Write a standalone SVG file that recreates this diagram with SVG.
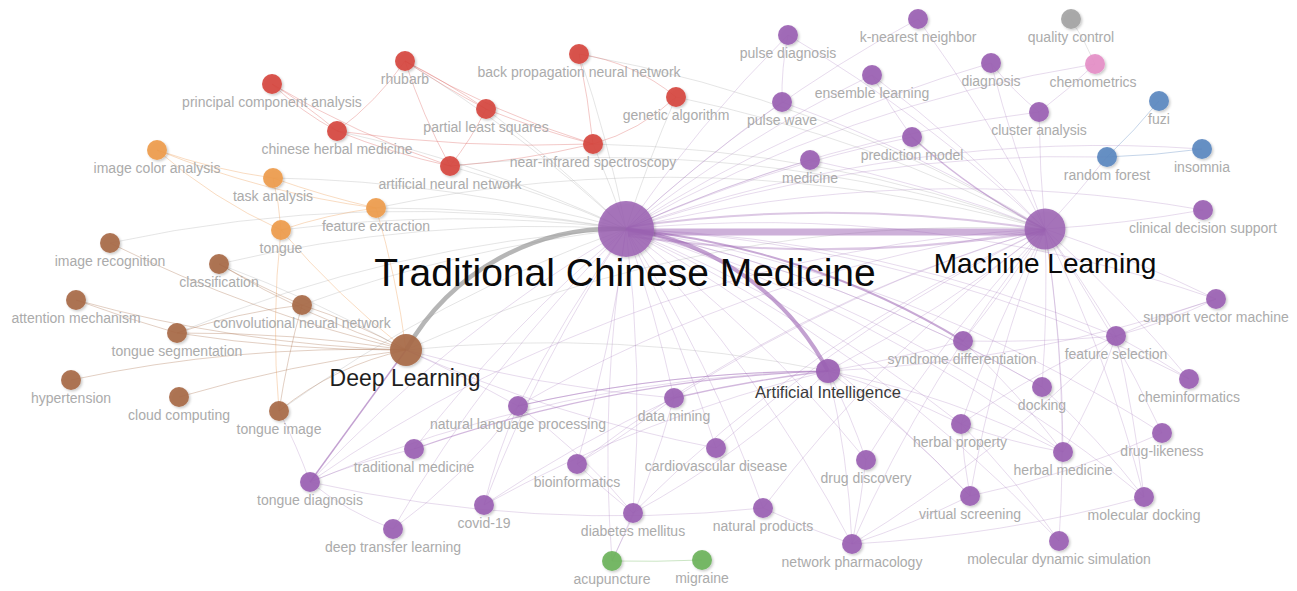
<svg xmlns="http://www.w3.org/2000/svg" width="1297" height="591" viewBox="0 0 1297 591">
<defs>
<style>
.e{fill:none;stroke-width:1}
.ep{stroke:#a77bbd;stroke-opacity:.27}
.eg{stroke:#9a9a9a;stroke-opacity:.26}
.er{stroke:#de6a66;stroke-opacity:.36}
.eo{stroke:#f0a35e;stroke-opacity:.38}
.eb{stroke:#b07a5a;stroke-opacity:.36}
.ebl{stroke:#6d95c8;stroke-opacity:.4}
.egr{stroke:#7dbd6c;stroke-opacity:.4}
.node circle{filter:url(#sh);fill-opacity:.92}
.pu{fill:#9b62b3}.rd{fill:#d6473f}.or{fill:#ee9c4c}.br{fill:#a86a48}
.bl{fill:#5b88c0}.gn{fill:#6db35c}.gy{fill:#a4a4a4}.pk{fill:#e58fc7}
text{font-family:"Liberation Sans",Arial,Helvetica,sans-serif;text-anchor:middle}
.lb{font-size:14px;fill:#ababab}
</style>
<filter id="sh" x="-50%" y="-50%" width="200%" height="200%">
<feDropShadow dx="1.5" dy="1.5" stdDeviation="1.3" flood-color="#000" flood-opacity="0.22"/>
</filter>
</defs>
<rect width="1297" height="591" fill="#fff"/>

<g id="connectors">
<!-- light links from the large hubs toward the left clusters -->
<g class="e eg">
<path d="M593 144 A1400 1400 0 0 1 626 229"/>
<path d="M450 166 A1400 1400 0 0 1 626 229"/>
<path d="M337 131 A1400 1400 0 0 1 626 229"/>
<path d="M405 61 A1400 1400 0 0 1 626 229"/>
<path d="M486 109 A1400 1400 0 0 1 626 229"/>
<path d="M579 54 A1400 1400 0 0 1 626 229"/>
<path d="M676 97 A1400 1400 0 0 0 626 229"/>
<path d="M376 208 A1400 1400 0 0 1 626 229"/>
<path d="M281 230 A1400 1400 0 0 1 626 229"/>
<path d="M273 178 A1400 1400 0 0 1 626 229"/>
<path d="M302 305 A1400 1400 0 0 1 626 229"/>
<path d="M219 264 A1400 1400 0 0 1 626 229"/>
<path d="M177 333 A1400 1400 0 0 1 626 229"/>
<path d="M279 411 A1400 1400 0 0 1 626 229"/>
<path d="M110 243 A1400 1400 0 0 1 626 229"/>
<path d="M593 144 A1400 1400 0 0 1 1045 229"/>
<path d="M676 97 A1400 1400 0 0 1 1045 229"/>
<path d="M579 54 A1400 1400 0 0 1 1045 229"/>
<path d="M376 208 A1400 1400 0 0 1 1045 229"/>
<path d="M450 166 A1400 1400 0 0 1 1045 229"/>
<path d="M406 350 A1400 1400 0 0 1 1045 229"/>
<path d="M406 350 A1400 1400 0 0 1 828 371"/>
<path d="M219 264 A1400 1400 0 0 1 406 350"/>
</g>
<!-- red cluster -->
<g class="e er">
<path d="M272 84 A300 300 0 0 0 337 131"/>
<path d="M272 84 A500 500 0 0 1 337 131"/>
<path d="M405 61 A300 300 0 0 1 337 131"/>
<path d="M405 61 A900 900 0 0 0 486 109"/>
<path d="M405 61 A700 700 0 0 1 486 109"/>
<path d="M405 61 A600 600 0 0 0 450 166"/>
<path d="M405 61 A900 900 0 0 0 593 144"/>
<path d="M486 109 A900 900 0 0 0 593 144"/>
<path d="M486 109 A300 300 0 0 1 450 166"/>
<path d="M337 131 A1400 1400 0 0 0 593 144"/>
<path d="M337 131 A700 700 0 0 0 450 166"/>
<path d="M272 84 A900 900 0 0 0 450 166"/>
<path d="M450 166 A900 900 0 0 0 593 144"/>
<path d="M579 54 A900 900 0 0 1 593 144"/>
<path d="M579 54 A200 200 0 0 1 676 97"/>
<path d="M676 97 A200 200 0 0 1 593 144"/>
</g>
<!-- orange cluster -->
<g class="e eo">
<path d="M157 150 A600 600 0 0 0 273 178"/>
<path d="M157 150 A900 900 0 0 0 376 208"/>
<path d="M157 150 A500 500 0 0 0 281 230"/>
<path d="M273 178 A900 900 0 0 0 376 208"/>
<path d="M273 178 A300 300 0 0 1 281 230"/>
<path d="M281 230 A500 500 0 0 1 376 208"/>
<path d="M281 230 A900 900 0 0 0 406 350"/>
<path d="M376 208 A900 900 0 0 1 406 350"/>
<path d="M281 230 A900 900 0 0 0 279 411"/>
</g>
<!-- brown cluster -->
<g class="e eb">
<path d="M110 243 A1400 1400 0 0 0 406 350"/>
<path d="M219 264 A900 900 0 0 0 406 350"/>
<path d="M76 300 A1400 1400 0 0 0 406 350"/>
<path d="M302 305 A600 600 0 0 1 406 350"/>
<path d="M177 333 A1400 1400 0 0 0 406 350"/>
<path d="M177 333 A1400 1400 0 0 1 406 350"/>
<path d="M71 380 A1400 1400 0 0 1 406 350"/>
<path d="M179 397 A1400 1400 0 0 1 406 350"/>
<path d="M279 411 A300 300 0 0 1 406 350"/>
<path d="M177 333 A600 600 0 0 1 302 305"/>
<path d="M302 305 A900 900 0 0 0 279 411"/>
<path d="M219 264 A900 900 0 0 0 302 305"/>
<path d="M76 300 A1400 1400 0 0 0 177 333"/>
</g>
<!-- purple links from Traditional Chinese Medicine -->
<g class="e ep">
<path d="M626 229 A1400 1400 0 0 1 788 35"/>
<path d="M626 229 A1400 1400 0 0 1 782 102"/>
<path d="M626 229 A1400 1400 0 0 1 918 19"/>
<path d="M626 229 A1400 1400 0 0 1 872 75"/>
<path d="M626 229 A1400 1400 0 0 1 810 160"/>
<path d="M626 229 A1400 1400 0 0 1 912 137"/>
<path d="M626 229 A1400 1400 0 0 1 991 63"/>
<path d="M626 229 A1400 1400 0 0 1 1039 112"/>
<path d="M626 229 A1400 1400 0 0 1 1095 64"/>
<path d="M626 229 A1400 1400 0 0 1 1107 157"/>
<path d="M626 229 A1400 1400 0 0 1 1203 210"/>
<path d="M626 229 A1400 1400 0 0 1 1216 299"/>
<path d="M626 229 A1400 1400 0 0 1 1116 336"/>
<path d="M626 229 A1400 1400 0 0 1 1189 379"/>
<path d="M626 229 A1400 1400 0 0 1 1042 387"/>
<path d="M626 229 A1400 1400 0 0 1 961 424"/>
<path d="M626 229 A1400 1400 0 0 1 1063 452"/>
<path d="M626 229 A1400 1400 0 0 1 866 460"/>
<path d="M626 229 A1400 1400 0 0 1 970 496"/>
<path d="M626 229 A1400 1400 0 0 1 852 544"/>
<path d="M626 229 A1400 1400 0 0 1 763 508"/>
<path d="M626 229 A1400 1400 0 0 1 716 448"/>
<path d="M626 229 A1400 1400 0 0 1 674 398"/>
<path d="M626 229 A1400 1400 0 0 0 518 406"/>
<path d="M626 229 A1400 1400 0 0 0 414 449"/>
<path d="M626 229 A1400 1400 0 0 1 577 464"/>
<path d="M626 229 A1400 1400 0 0 0 310 482"/>
<path d="M626 229 A1400 1400 0 0 0 484 505"/>
<path d="M626 229 A1400 1400 0 0 1 633 513"/>
<path d="M626 229 A1400 1400 0 0 0 393 529"/>
<path d="M626 229 A1400 1400 0 0 0 612 561"/>
<path d="M626 229 A1400 1400 0 0 1 1059 541"/>
<path d="M626 229 A1400 1400 0 0 1 1144 497"/>
<path d="M626 229 A1400 1400 0 0 1 1162 433"/>
<path d="M626 229 A1400 1400 0 0 1 1202 149"/>
</g>
<!-- purple links from Machine Learning -->
<g class="e ep">
<path d="M1045 229 A1400 1400 0 0 0 788 35"/>
<path d="M1045 229 A1400 1400 0 0 0 782 102"/>
<path d="M1045 229 A1400 1400 0 0 0 918 19"/>
<path d="M1045 229 A1400 1400 0 0 0 872 75"/>
<path d="M1045 229 A1400 1400 0 0 0 810 160"/>
<path d="M1045 229 A1400 1400 0 0 1 991 63"/>
<path d="M1045 229 A1400 1400 0 0 1 1039 112"/>
<path d="M1045 229 A1400 1400 0 0 0 1107 157"/>
<path d="M1045 229 A1400 1400 0 0 0 1203 210"/>
<path d="M1045 229 A1400 1400 0 0 1 1216 299"/>
<path d="M1045 229 A1400 1400 0 0 1 1116 336"/>
<path d="M1045 229 A1400 1400 0 0 1 963 341"/>
<path d="M1045 229 A1400 1400 0 0 1 828 371"/>
<path d="M1045 229 A1400 1400 0 0 1 1189 379"/>
<path d="M1045 229 A1400 1400 0 0 1 1162 433"/>
<path d="M1045 229 A1400 1400 0 0 1 1144 497"/>
<path d="M1045 229 A1400 1400 0 0 1 1063 452"/>
<path d="M1045 229 A1400 1400 0 0 1 1042 387"/>
<path d="M1045 229 A1400 1400 0 0 0 961 424"/>
<path d="M1045 229 A1400 1400 0 0 0 970 496"/>
<path d="M1045 229 A1400 1400 0 0 0 866 460"/>
<path d="M1045 229 A1400 1400 0 0 0 852 544"/>
<path d="M1045 229 A1400 1400 0 0 1 1059 541"/>
<path d="M1045 229 A1400 1400 0 0 0 674 398"/>
<path d="M1045 229 A1400 1400 0 0 0 518 406"/>
<path d="M1045 229 A1400 1400 0 0 0 310 482"/>
<path d="M1045 229 A1400 1400 0 0 0 716 448"/>
<path d="M1045 229 A1400 1400 0 0 0 633 513"/>
<path d="M1045 229 A1400 1400 0 0 0 763 508"/>
<path d="M1045 229 A1400 1400 0 0 0 577 464"/>
</g>
<!-- links among the outer topics -->
<g class="e ep">
<path d="M788 35 A300 300 0 0 0 782 102"/>
<path d="M872 75 A600 600 0 0 0 912 137"/>
<path d="M991 63 A300 300 0 0 0 1039 112"/>
<path d="M1039 112 A600 600 0 0 0 1095 64"/>
<path d="M963 341 A1400 1400 0 0 0 1116 336"/>
<path d="M963 341 A1400 1400 0 0 1 828 371"/>
<path d="M1116 336 A600 600 0 0 0 1216 299"/>
<path d="M1116 336 A900 900 0 0 1 1189 379"/>
<path d="M1116 336 A600 600 0 0 1 1063 452"/>
<path d="M1216 299 A900 900 0 0 0 961 424"/>
<path d="M828 371 A1400 1400 0 0 0 518 406"/>
<path d="M828 371 A1400 1400 0 0 0 484 505"/>
<path d="M828 371 A600 600 0 0 1 866 460"/>
<path d="M828 371 A900 900 0 0 1 852 544"/>
<path d="M828 371 A900 900 0 0 1 1063 452"/>
<path d="M828 371 A900 900 0 0 1 961 424"/>
<path d="M828 371 A900 900 0 0 1 970 496"/>
<path d="M406 350 A1400 1400 0 0 1 518 406"/>
<path d="M406 350 A1400 1400 0 0 0 674 398"/>
<path d="M406 350 A1400 1400 0 0 0 716 448"/>
<path d="M310 482 A300 300 0 0 0 393 529"/>
<path d="M310 482 A600 600 0 0 1 414 449"/>
<path d="M310 482 A1400 1400 0 0 0 763 508"/>
<path d="M310 482 A1400 1400 0 0 1 828 371"/>
<path d="M310 482 A600 600 0 0 0 279 411"/>
<path d="M393 529 A600 600 0 0 0 518 406"/>
<path d="M518 406 A600 600 0 0 0 484 505"/>
<path d="M518 406 A600 600 0 0 1 633 513"/>
<path d="M577 464 A900 900 0 0 0 633 513"/>
<path d="M577 464 A900 900 0 0 0 674 398"/>
<path d="M484 505 A1400 1400 0 0 1 674 398"/>
<path d="M633 513 A900 900 0 0 1 612 561"/>
<path d="M633 513 A900 900 0 0 0 828 371"/>
<path d="M612 561 A900 900 0 0 0 674 398"/>
<path d="M852 544 A1400 1400 0 0 0 1144 497"/>
<path d="M852 544 A900 900 0 0 0 970 496"/>
<path d="M852 544 A900 900 0 0 0 866 460"/>
<path d="M852 544 A900 900 0 0 1 763 508"/>
<path d="M852 544 A1400 1400 0 0 0 1116 336"/>
<path d="M970 496 A900 900 0 0 0 1162 433"/>
<path d="M970 496 A600 600 0 0 1 961 424"/>
<path d="M961 424 A600 600 0 0 0 1063 452"/>
<path d="M961 424 A900 900 0 0 1 1059 541"/>
<path d="M1042 387 A900 900 0 0 1 1144 497"/>
<path d="M1144 497 A1400 1400 0 0 0 1116 336"/>
<path d="M963 341 A900 900 0 0 1 1063 452"/>
<path d="M828 371 A1400 1400 0 0 0 1216 299"/>
<path d="M626 229 A1400 1400 0 0 1 1042 387"/>
</g>
<g class="e eg"><path d="M1095 64 A300 300 0 0 0 1071 19"/></g>
<g class="e ebl">
<path d="M1107 157 A600 600 0 0 0 1159 101"/>
<path d="M1107 157 A900 900 0 0 0 1202 149"/>
</g>
<g class="e egr"><path d="M612 561 A1400 1400 0 0 0 702 560"/></g>

<!-- weighted links -->
<path d="M628 232 L1045 232" fill="none" stroke="#9b62b3" stroke-opacity=".5" stroke-width="7"/>
<path d="M628 227 A1400 1400 0 0 1 1045 230" fill="none" stroke="#9b62b3" stroke-opacity=".35" stroke-width="2"/>
<path d="M628 236 A1400 1400 0 0 0 1045 231" fill="none" stroke="#9b62b3" stroke-opacity=".35" stroke-width="2"/>
<path d="M406 350 A240 240 0 0 1 626 229" fill="none" stroke="#8f8f8f" stroke-opacity=".65" stroke-width="4.5"/>
<path d="M626 229 A271 271 0 0 1 828 371" fill="none" stroke="#9b62b3" stroke-opacity=".6" stroke-width="4"/>
<path d="M626 229 A800 800 0 0 1 963 341" fill="none" stroke="#9b62b3" stroke-opacity=".55" stroke-width="2"/>
<path d="M406 350 L310 482" fill="none" stroke="#9b62b3" stroke-opacity=".6" stroke-width="1.4"/>
<path d="M912 137 A600 600 0 0 0 1045 229" fill="none" stroke="#9b62b3" stroke-opacity=".45" stroke-width="1.5"/>
<path d="M828 371 A1400 1400 0 0 0 674 398" fill="none" stroke="#9b62b3" stroke-opacity=".45" stroke-width="1.4"/>
<path d="M828 371 A1400 1400 0 0 0 414 449" fill="none" stroke="#9b62b3" stroke-opacity=".45" stroke-width="1.2"/>
<path d="M828 371 A1400 1400 0 0 0 518 406" fill="none" stroke="#9b62b3" stroke-opacity=".4" stroke-width="1.2"/>
</g>

<!-- red cluster -->
<g id="n-principal-component-analysis" class="node"><circle class="rd" cx="272" cy="84" r="10"/><text class="lb" x="272" y="107">principal component analysis</text></g>
<g id="n-rhubarb" class="node"><circle class="rd" cx="405" cy="61" r="10"/><text class="lb" x="405" y="84">rhubarb</text></g>
<g id="n-back-propagation-neural-network" class="node"><circle class="rd" cx="579" cy="54" r="10"/><text class="lb" x="579" y="77">back propagation neural network</text></g>
<g id="n-partial-least-squares" class="node"><circle class="rd" cx="486" cy="109" r="10"/><text class="lb" x="486" y="132">partial least squares</text></g>
<g id="n-genetic-algorithm" class="node"><circle class="rd" cx="676" cy="97" r="10"/><text class="lb" x="676" y="120">genetic algorithm</text></g>
<g id="n-chinese-herbal-medicine" class="node"><circle class="rd" cx="337" cy="131" r="10"/><text class="lb" x="337" y="154">chinese herbal medicine</text></g>
<g id="n-near-infrared-spectroscopy" class="node"><circle class="rd" cx="593" cy="144" r="10"/><text class="lb" x="593" y="167">near-infrared spectroscopy</text></g>
<g id="n-artificial-neural-network" class="node"><circle class="rd" cx="450" cy="166" r="10"/><text class="lb" x="450" y="189">artificial neural network</text></g>

<!-- orange cluster -->
<g id="n-image-color-analysis" class="node"><circle class="or" cx="157" cy="150" r="10"/><text class="lb" x="157" y="173">image color analysis</text></g>
<g id="n-task-analysis" class="node"><circle class="or" cx="273" cy="178" r="10"/><text class="lb" x="273" y="201">task analysis</text></g>
<g id="n-feature-extraction" class="node"><circle class="or" cx="376" cy="208" r="10"/><text class="lb" x="376" y="231">feature extraction</text></g>
<g id="n-tongue" class="node"><circle class="or" cx="281" cy="230" r="10"/><text class="lb" x="281" y="253">tongue</text></g>

<!-- brown cluster -->
<g id="n-image-recognition" class="node"><circle class="br" cx="110" cy="243" r="10"/><text class="lb" x="110" y="266">image recognition</text></g>
<g id="n-classification" class="node"><circle class="br" cx="219" cy="264" r="10"/><text class="lb" x="219" y="287">classification</text></g>
<g id="n-attention-mechanism" class="node"><circle class="br" cx="76" cy="300" r="10"/><text class="lb" x="76" y="323">attention mechanism</text></g>
<g id="n-convolutional-neural-network" class="node"><circle class="br" cx="302" cy="305" r="10"/><text class="lb" x="302" y="328">convolutional neural network</text></g>
<g id="n-tongue-segmentation" class="node"><circle class="br" cx="177" cy="333" r="10"/><text class="lb" x="177" y="356">tongue segmentation</text></g>
<g id="n-hypertension" class="node"><circle class="br" cx="71" cy="380" r="10"/><text class="lb" x="71" y="403">hypertension</text></g>
<g id="n-cloud-computing" class="node"><circle class="br" cx="179" cy="397" r="10"/><text class="lb" x="179" y="420">cloud computing</text></g>
<g id="n-tongue-image" class="node"><circle class="br" cx="279" cy="411" r="10"/><text class="lb" x="279" y="434">tongue image</text></g>
<g id="n-deep-learning" class="node"><circle class="br" cx="406" cy="350" r="16"/><text x="405" y="386" font-size="23" fill="#1e1e1e">Deep Learning</text></g>

<!-- purple cluster -->
<g id="n-traditional-chinese-medicine" class="node"><circle class="pu" cx="626" cy="229" r="28" style="fill-opacity:.85"/><text x="625" y="286" font-size="39" fill="#0a0a0a">Traditional Chinese Medicine</text></g>
<g id="n-machine-learning" class="node"><circle class="pu" cx="1045" cy="229" r="20.5" style="fill-opacity:.85"/><text x="1045" y="273" font-size="28" fill="#0a0a0a">Machine Learning</text></g>
<g id="n-artificial-intelligence" class="node"><circle class="pu" cx="828" cy="371" r="12"/><text x="828" y="398" font-size="16.5" fill="#3a3a3a">Artificial Intelligence</text></g>
<g id="n-pulse-diagnosis" class="node"><circle class="pu" cx="788" cy="35" r="10"/><text class="lb" x="788" y="58">pulse diagnosis</text></g>
<g id="n-k-nearest-neighbor" class="node"><circle class="pu" cx="918" cy="19" r="10"/><text class="lb" x="918" y="42">k-nearest neighbor</text></g>
<g id="n-diagnosis" class="node"><circle class="pu" cx="991" cy="63" r="10"/><text class="lb" x="991" y="86">diagnosis</text></g>
<g id="n-ensemble-learning" class="node"><circle class="pu" cx="872" cy="75" r="10"/><text class="lb" x="872" y="98">ensemble learning</text></g>
<g id="n-pulse-wave" class="node"><circle class="pu" cx="782" cy="102" r="10"/><text class="lb" x="782" y="125">pulse wave</text></g>
<g id="n-cluster-analysis" class="node"><circle class="pu" cx="1039" cy="112" r="10"/><text class="lb" x="1039" y="135">cluster analysis</text></g>
<g id="n-prediction-model" class="node"><circle class="pu" cx="912" cy="137" r="10"/><text class="lb" x="912" y="160">prediction model</text></g>
<g id="n-medicine" class="node"><circle class="pu" cx="810" cy="160" r="10"/><text class="lb" x="810" y="183">medicine</text></g>
<g id="n-clinical-decision-support" class="node"><circle class="pu" cx="1203" cy="210" r="10"/><text class="lb" x="1203" y="233">clinical decision support</text></g>
<g id="n-support-vector-machine" class="node"><circle class="pu" cx="1216" cy="299" r="10"/><text class="lb" x="1216" y="322">support vector machine</text></g>
<g id="n-syndrome-differentiation" class="node"><circle class="pu" cx="963" cy="341" r="10"/><text class="lb" x="962" y="364">syndrome differentiation</text></g>
<g id="n-feature-selection" class="node"><circle class="pu" cx="1116" cy="336" r="10"/><text class="lb" x="1116" y="359">feature selection</text></g>
<g id="n-cheminformatics" class="node"><circle class="pu" cx="1189" cy="379" r="10"/><text class="lb" x="1189" y="402">cheminformatics</text></g>
<g id="n-docking" class="node"><circle class="pu" cx="1042" cy="387" r="10"/><text class="lb" x="1042" y="410">docking</text></g>
<g id="n-herbal-property" class="node"><circle class="pu" cx="961" cy="424" r="10"/><text class="lb" x="960" y="447">herbal property</text></g>
<g id="n-drug-likeness" class="node"><circle class="pu" cx="1162" cy="433" r="10"/><text class="lb" x="1162" y="456">drug-likeness</text></g>
<g id="n-herbal-medicine" class="node"><circle class="pu" cx="1063" cy="452" r="10"/><text class="lb" x="1063" y="475">herbal medicine</text></g>
<g id="n-drug-discovery" class="node"><circle class="pu" cx="866" cy="460" r="10"/><text class="lb" x="866" y="483">drug discovery</text></g>
<g id="n-virtual-screening" class="node"><circle class="pu" cx="970" cy="496" r="10"/><text class="lb" x="970" y="519">virtual screening</text></g>
<g id="n-molecular-docking" class="node"><circle class="pu" cx="1144" cy="497" r="10"/><text class="lb" x="1144" y="520">molecular docking</text></g>
<g id="n-molecular-dynamic-simulation" class="node"><circle class="pu" cx="1059" cy="541" r="10"/><text class="lb" x="1059" y="564">molecular dynamic simulation</text></g>
<g id="n-network-pharmacology" class="node"><circle class="pu" cx="852" cy="544" r="10"/><text class="lb" x="852" y="567">network pharmacology</text></g>
<g id="n-natural-products" class="node"><circle class="pu" cx="763" cy="508" r="10"/><text class="lb" x="763" y="531">natural products</text></g>
<g id="n-cardiovascular-disease" class="node"><circle class="pu" cx="716" cy="448" r="10"/><text class="lb" x="716" y="471">cardiovascular disease</text></g>
<g id="n-data-mining" class="node"><circle class="pu" cx="674" cy="398" r="10"/><text class="lb" x="674" y="421">data mining</text></g>
<g id="n-natural-language-processing" class="node"><circle class="pu" cx="518" cy="406" r="10"/><text class="lb" x="518" y="429">natural language processing</text></g>
<g id="n-traditional-medicine" class="node"><circle class="pu" cx="414" cy="449" r="10"/><text class="lb" x="414" y="472">traditional medicine</text></g>
<g id="n-bioinformatics" class="node"><circle class="pu" cx="577" cy="464" r="10"/><text class="lb" x="577" y="487">bioinformatics</text></g>
<g id="n-tongue-diagnosis" class="node"><circle class="pu" cx="310" cy="482" r="10"/><text class="lb" x="310" y="505">tongue diagnosis</text></g>
<g id="n-covid-19" class="node"><circle class="pu" cx="484" cy="505" r="10"/><text class="lb" x="484" y="528">covid-19</text></g>
<g id="n-diabetes-mellitus" class="node"><circle class="pu" cx="633" cy="513" r="10"/><text class="lb" x="633" y="536">diabetes mellitus</text></g>
<g id="n-deep-transfer-learning" class="node"><circle class="pu" cx="393" cy="529" r="10"/><text class="lb" x="393" y="552">deep transfer learning</text></g>

<!-- small clusters -->
<g id="n-quality-control" class="node"><circle class="gy" cx="1071" cy="19" r="10"/><text class="lb" x="1071" y="42">quality control</text></g>
<g id="n-chemometrics" class="node"><circle class="pk" cx="1095" cy="64" r="10"/><text class="lb" x="1093" y="87">chemometrics</text></g>
<g id="n-fuzi" class="node"><circle class="bl" cx="1159" cy="101" r="10"/><text class="lb" x="1159" y="124">fuzi</text></g>
<g id="n-random-forest" class="node"><circle class="bl" cx="1107" cy="157" r="10"/><text class="lb" x="1107" y="180">random forest</text></g>
<g id="n-insomnia" class="node"><circle class="bl" cx="1202" cy="149" r="10"/><text class="lb" x="1202" y="172">insomnia</text></g>
<g id="n-acupuncture" class="node"><circle class="gn" cx="612" cy="561" r="10"/><text class="lb" x="612" y="584">acupuncture</text></g>
<g id="n-migraine" class="node"><circle class="gn" cx="702" cy="560" r="10"/><text class="lb" x="702" y="583">migraine</text></g>
</svg>
